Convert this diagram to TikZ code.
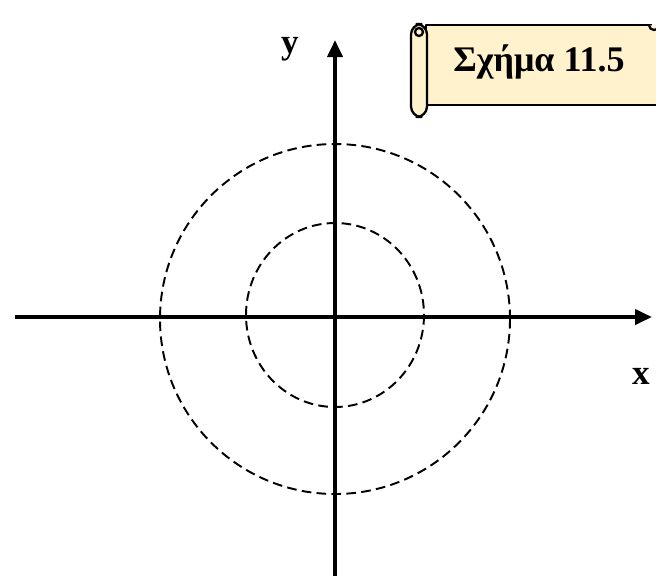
\documentclass[tikz,border=0pt]{standalone}
\usepackage{fontspec}
\setmainfont{Liberation Serif}
\usetikzlibrary{arrows.meta}
\definecolor{scrollCream}{RGB}{255,242,204}

\begin{document}
\begin{tikzpicture}[
    x=0.02cm, y=-0.02cm,
    axis line/.style={line width=2.2pt, -{Triangle[length=0.34cm, width=0.3cm]}},
    orbit/.style={draw=black, line width=1.1pt, dash pattern=on 5.5pt off 3pt},
    scroll part/.style={draw=black, line width=1.3pt, fill=scrollCream, line join=round},
    axis label/.style={font=\fontsize{20}{24}\selectfont\bfseries, inner sep=0pt}
]
  \useasboundingbox (0,0) rectangle (656,576);
  \clip (0,0) rectangle (656,576);

  % axes
  \coordinate (o) at (335,317);
  \coordinate (xstart) at (15,317);
  \coordinate (xend) at (652,317);
  \coordinate (ystart) at (335,576);
  \coordinate (yend) at (335,40);

  \draw[orbit] (335,319) circle[radius=175];
  \draw[orbit] (335,315) ellipse[x radius=89, y radius=92];

  \draw[axis line] (xstart) -- (xend);
  \draw[axis line] (ystart) -- (yend);

  \node[axis label] (ylabel) at (290,49) {y};
  \node[axis label] (xlabel) at (641,376) {x};

  % scroll banner
  \draw[scroll part] (652,25) -- (426,25) -- (426,105) -- (700,105);
  \fill[scrollCream] (427,27) rectangle (700,103);
  \draw[scroll part] (649,25) arc[start angle=180, end angle=20, radius=5];
  \draw[scroll part, rounded corners=6] (411,117) -- (411,24) -- (427,24) -- (427,117) -- cycle;
  \draw[scroll part] (419,32) circle[radius=4];
  \node[font=\fontsize{20.5}{25}\selectfont\bfseries, inner sep=0pt] (caption) at (539,62) {Σχήμα 11.5};
\end{tikzpicture}
\end{document}
